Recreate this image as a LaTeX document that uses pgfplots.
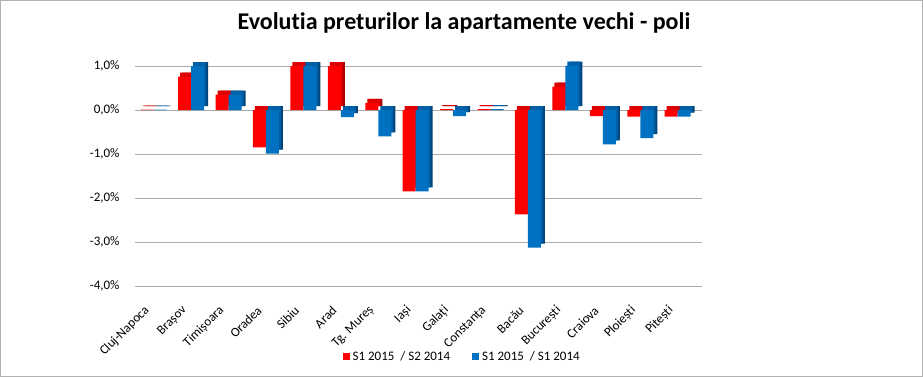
\documentclass[border=0pt]{standalone}
\usepackage{pgfplots}
\pgfplotsset{compat=1.18}
\usepackage{pgfplotstable}
\usepackage{fontspec}
\setmainfont{Carlito}[Ligatures=NoCommon]
\definecolor{redF}{HTML}{FF0000}
\definecolor{redT}{HTML}{DD0000}
\definecolor{redS}{HTML}{A80000}
\definecolor{bluF}{HTML}{0070C0}
\definecolor{bluT}{HTML}{005FA6}
\definecolor{bluS}{HTML}{00447A}
\pgfplotstableread{
x r b
0 0.01 0.01
1 0.76 1.00
2 0.35 0.35
3 -0.85 -0.99
4 1.00 1.00
5 1.00 -0.16
6 0.16 -0.60
7 -1.85 -1.85
8 0.02 -0.14
9 0.02 0.02
10 -2.37 -3.13
11 0.53 1.01
12 -0.14 -0.78
13 -0.15 -0.64
14 -0.15 -0.15
}\data
\begin{document}
\begin{tikzpicture}[x=1pt,y=1pt]
\path[use as bounding box] (0,0) rectangle (923,377);
\draw[gray!60, line width=0.8pt] (0.5,0.5) rectangle (922.5,376.5);
\node[font=\bfseries\fontsize{24}{28}\selectfont] at (464,354) {Evolutia preturilor la apartamente vechi - poli};
\begin{axis}[at={(135pt,91pt)}, anchor=south west, scale only axis,
  width=567pt, height=220pt, xmin=-0.5, xmax=14.65, ymin=-4, ymax=1,
  clip=false, axis line style={draw=none}, major tick length=0pt,
  ymajorgrids, major grid style={gray!65, line width=0.8pt},
  ytick={-4,-3,-2,-1,0,1},
  yticklabels={{-4,0\%},{-3,0\%},{-2,0\%},{-1,0\%},{0,0\%},{1,0\%}},
  y tick label style={font=\fontsize{13}{15}\selectfont, xshift=-12pt},
  xtick={0,...,14},
  xticklabels={Cluj-Napoca,Brașov,Timișoara,Oradea,Sibiu,Arad,Tg. Mureș,Iași,Galați,Constanța,Bacău,București,Craiova,Ploiești,Pitești},
  xticklabel shift=16pt,
  x tick label style={font=\fontsize{13}{15}\selectfont, rotate=45, anchor=east, inner sep=1pt, xshift=-8pt},
  legend style={at={(0.577,-0.32)}, anchor=center, draw=none, fill=none,
    legend columns=2, font=\fontsize{13}{15}\selectfont,
    /tikz/every odd column/.append style={column sep=1pt},
    /tikz/every even column/.append style={column sep=20pt}},
  legend image code/.code={\fill[#1] (0pt,-3.5pt) rectangle (7pt,3.5pt);},
]
% side faces (dark)
\addplot[ybar, bar width=13pt, bar shift=-6.5pt, fill=redS, draw=none, xshift=4pt, yshift=4pt, forget plot] table[x=x,y=r]{\data};
\addplot[ybar, bar width=13pt, bar shift=6.5pt, fill=bluS, draw=none, xshift=4pt, yshift=4pt, forget plot] table[x=x,y=b]{\data};
% top faces
\addplot[ybar, bar width=13pt, bar shift=-6.5pt, fill=redT, draw=none, xshift=2pt, yshift=4pt, forget plot] table[x=x,y=r]{\data};
\addplot[ybar, bar width=13pt, bar shift=6.5pt, fill=bluT, draw=none, xshift=2pt, yshift=4pt, forget plot] table[x=x,y=b]{\data};
% front faces
\addplot[ybar, bar width=13pt, bar shift=-6.5pt, fill=redF, draw=none] table[x=x,y=r]{\data};
\addplot[ybar, bar width=13pt, bar shift=6.5pt, fill=bluF, draw=none] table[x=x,y=b]{\data};
\legend{S1 2015~~/ S2 2014, S1 2015~~/ S1 2014}
\end{axis}
\end{tikzpicture}
\end{document}
